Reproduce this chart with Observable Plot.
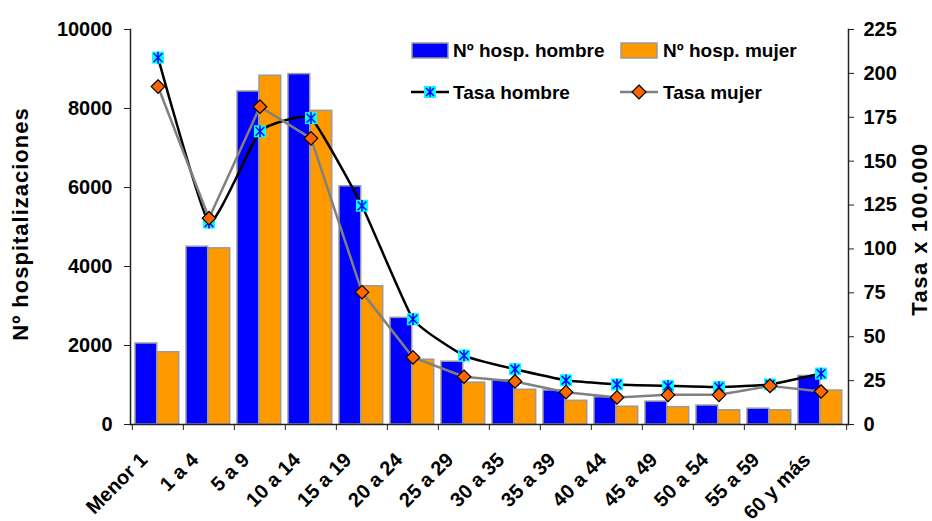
<!DOCTYPE html>
<html><head><meta charset="utf-8">
<script src="https://cdn.jsdelivr.net/npm/d3@7"></script>
<script src="https://cdn.jsdelivr.net/npm/@observablehq/plot@0.6"></script>
<style>
body{margin:0;background:#fff;}
#wrap{position:relative;width:932px;height:521px;}
#legend{position:absolute;left:0;top:0;pointer-events:none;}
</style></head><body><div id="wrap"></div>
<script>
const categories = ["Menor 1","1 a 4","5 a 9","10 a 14","15 a 19","20 a 24","25 a 29","30 a 35","35 a 39","40 a 44","45 a 49","50 a 54","55 a 59","60 y más"];
const hospHombre = [2050, 4500, 8430, 8870, 6030, 2700, 1590, 1120, 860, 690, 580, 480, 400, 1230];
const hospMujer  = [1830, 4460, 8830, 7940, 3500, 1640, 1060, 880, 600, 450, 440, 360, 360, 860];
const tasaHombre = [209, 115, 167, 174.5, 124.6, 60, 39.3, 31.5, 25.2, 22.8, 22, 21.3, 22.8, 29];
const tasaMujer  = [192.5, 117.5, 181, 163, 75.4, 38.2, 27.2, 24.5, 18.4, 15.4, 16.9, 16.9, 22, 18.8];
const leftTicks = [0, 2000, 4000, 6000, 8000, 10000];
const rightTicks = [0, 25, 50, 75, 100, 125, 150, 175, 200, 225];
const legendLabels = ["Nº hosp. hombre", "Nº hosp. mujer", "Tasa hombre", "Tasa mujer"];
const yTitle = "Nº hospitalizaciones";
const y2Title = "Tasa x 100.000";

const W = 932, H = 521, mL = 130, mR = 84, mT = 29, mB = 97;
const bw = (W - mL - mR) / categories.length;
const yMax = 10000, rMax = 225;
const toY = r => r * yMax / rMax;
const rows = categories.map((c, i) => ({c, hh: hospHombre[i], hm: hospMujer[i], th: tasaHombre[i], tm: tasaMujer[i]}));

const starSymbol = {draw(ctx, size) {
  const r = Math.sqrt(size / Math.PI); const d = r * 0.75;
  ctx.moveTo(0, -r); ctx.lineTo(0, r);
  ctx.moveTo(-d, -d); ctx.lineTo(d, d);
  ctx.moveTo(-d, d); ctx.lineTo(d, -d);
}};

const axisColor = "#222";
const plot = Plot.plot({
  width: W, height: H, marginLeft: mL, marginRight: mR, marginTop: mT, marginBottom: mB,
  style: {fontFamily: "'Liberation Sans', Arial, sans-serif", fontWeight: "bold", fontSize: "20px", color: "#000", background: "#fff", overflow: "visible"},
  x: {type: "band", domain: categories, padding: 0},
  y: {domain: [0, yMax]},
  marks: [
    Plot.barY(rows, {x: "c", y: "hh", fill: "#0000FF", stroke: "#9a9a9a", strokeWidth: 1.5, insetLeft: 3, insetRight: bw - 25}),
    Plot.barY(rows, {x: "c", y: "hm", fill: "#FF9900", stroke: "#9a9a9a", strokeWidth: 1.5, insetLeft: 25, insetRight: bw - 47}),
    Plot.axisY({anchor: "left", ticks: leftTicks, tickSize: 6, tickPadding: 12, stroke: axisColor, tickFormat: d => String(d), label: null}),
    Plot.axisY({anchor: "right", ticks: rightTicks.map(toY), tickSize: 5, tickPadding: 10, stroke: axisColor, tickFormat: d => String(Math.round(d * rMax / yMax)), label: null}),
    Plot.axisX({tickSize: 0, tickRotate: -45, tickPadding: 32, dx: -14, label: null}),
    Plot.axisX({ticks: categories, tickSize: 6, text: null, dx: -bw / 2, stroke: axisColor, label: null}),
    Plot.axisX({ticks: [categories[categories.length - 1]], tickSize: 6, text: null, dx: bw / 2, stroke: axisColor, label: null}),
    Plot.frame({anchor: "left", stroke: axisColor, strokeWidth: 1.5}),
    Plot.frame({anchor: "right", stroke: axisColor, strokeWidth: 1.5}),
    Plot.frame({anchor: "bottom", stroke: axisColor, strokeWidth: 1.5}),
    Plot.line(rows, {x: "c", y: d => toY(d.th), stroke: "#000", strokeWidth: 2.5, curve: "cardinal", tension: 0.6}),
    Plot.line(rows, {x: "c", y: d => toY(d.tm), stroke: "#808080", strokeWidth: 2.5}),
    Plot.dot(rows, {x: "c", y: d => toY(d.th), symbol: "square", r: 6.8, fill: "#00FFFF", stroke: "none"}),
    Plot.dot(rows, {x: "c", y: d => toY(d.th), symbol: starSymbol, r: 5.8, stroke: "#0000FF", strokeWidth: 1.5, fill: "none"}),
    Plot.dot(rows, {x: "c", y: d => toY(d.tm), symbol: "diamond2", r: 6.1, fill: "#FF6600", stroke: "#000", strokeWidth: 1.2})
  ]
});
const wrap = document.getElementById("wrap");
wrap.appendChild(plot);

// axis titles and legend overlay
const svg = d3.select(wrap).append("svg").attr("id", "legend").attr("width", W).attr("height", H)
  .attr("font-family", "'Liberation Sans', Arial, sans-serif").attr("font-weight", "bold");
svg.append("text").attr("transform", "translate(28,224) rotate(-90)").attr("text-anchor", "middle")
  .attr("font-size", 22).attr("letter-spacing", 1).text(yTitle);
svg.append("text").attr("transform", "translate(927,229) rotate(-90)").attr("text-anchor", "middle")
  .attr("font-size", 22).attr("letter-spacing", 1.5).text(y2Title);

const fs = 19;
// row 1: bars
svg.append("rect").attr("x", 412).attr("y", 43).attr("width", 36).attr("height", 15).attr("fill", "#0000FF").attr("stroke", "#9a9a9a").attr("stroke-width", 1.5);
svg.append("text").attr("x", 453).attr("y", 57).attr("font-size", fs).text(legendLabels[0]);
svg.append("rect").attr("x", 621).attr("y", 43).attr("width", 36).attr("height", 15).attr("fill", "#FF9900").attr("stroke", "#9a9a9a").attr("stroke-width", 1.5);
svg.append("text").attr("x", 663).attr("y", 57).attr("font-size", fs).text(legendLabels[1]);
// row 2: lines
svg.append("line").attr("x1", 411).attr("x2", 449).attr("y1", 92).attr("y2", 92).attr("stroke", "#000").attr("stroke-width", 2.5);
svg.append("rect").attr("x", 424).attr("y", 86).attr("width", 12).attr("height", 12).attr("fill", "#00FFFF");
svg.append("path").attr("d", "M430,87V97M426,88L434,96M426,96L434,88").attr("stroke", "#0000FF").attr("stroke-width", 1.5).attr("fill", "none");
svg.append("text").attr("x", 453).attr("y", 99).attr("font-size", fs).text(legendLabels[2]);
svg.append("line").attr("x1", 620).attr("x2", 658).attr("y1", 92).attr("y2", 92).attr("stroke", "#808080").attr("stroke-width", 2.5);
svg.append("path").attr("d", "M639,85L646,92L639,99L632,92Z").attr("fill", "#FF6600").attr("stroke", "#000").attr("stroke-width", 1.2);
svg.append("text").attr("x", 663).attr("y", 99).attr("font-size", fs).text(legendLabels[3]);
</script></body></html>
